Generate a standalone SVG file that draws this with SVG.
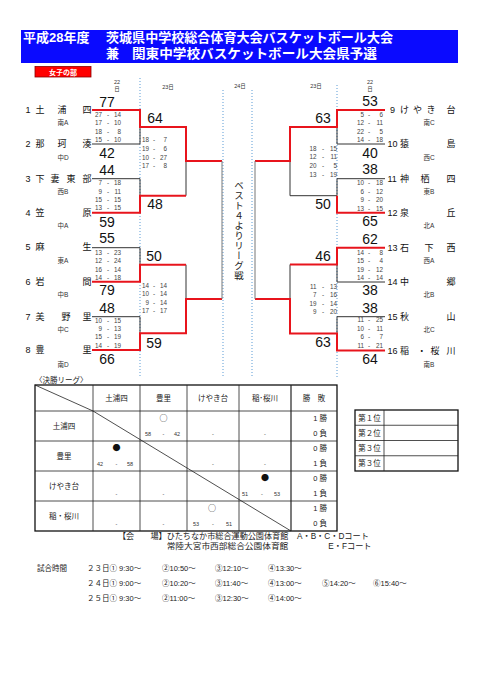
<svg xmlns="http://www.w3.org/2000/svg" width="481" height="680" viewBox="0 0 481 680">
<style>
text{font-family:"Liberation Sans","Noto Sans CJK JP",sans-serif;fill:#222}
.hd{font-family:"Liberation Sans","Noto Sans CJK JP",sans-serif;font-weight:bold;font-size:13px;fill:#fff}
.nm{font-size:9px;text-anchor:middle;fill:#111}
.no{font-size:9px;fill:#111}
.sub{font-size:6.5px;text-anchor:middle;fill:#333}
.big{font-family:"Liberation Sans Narrow","Liberation Sans",sans-serif;font-size:14px;text-anchor:middle;fill:#111}
.st{font-size:6.3px;text-anchor:end;fill:#444}
.day{font-size:5.5px;text-anchor:middle;fill:#333}
.red{stroke:#e8141c;stroke-width:2;fill:none}
.blk{stroke:#333;stroke-width:1;fill:none}
.gry{stroke:#777;stroke-width:1;fill:none}
.dot{stroke:#5b9bd5;stroke-width:1;stroke-dasharray:1,2;fill:none}
.tb{font-size:7.5px;text-anchor:middle}
.mk{font-family:"Noto Sans CJK JP",sans-serif;font-size:8px;text-anchor:middle;fill:#111}
.ts{font-size:5.5px;text-anchor:middle;fill:#333}
.wl{font-size:7.5px;text-anchor:end}
.ft{font-size:8.2px}
.sc{font-size:7.5px}
</style>

<g id="header">
<rect x="21" y="30" width="437" height="33" fill="#0a0aff"/>
<text class="hd" x="23" y="42">平成28年度</text>
<text class="hd" x="106" y="42" textLength="287" lengthAdjust="spacingAndGlyphs">茨城県中学校総合体育大会バスケットボール大会</text>
<text class="hd" x="106" y="57.5">兼</text>
<text class="hd" x="132" y="57.5" textLength="245" lengthAdjust="spacingAndGlyphs">関東中学校バスケットボール大会県予選</text>
</g>
<g id="division">
<rect x="35" y="66.5" width="56" height="10.5" fill="#ff0000" stroke="#800" stroke-width="0.8"/>
<text x="63" y="74.5" style="font-size:7px;text-anchor:middle;fill:#fff;font-weight:bold">女子の部</text>
</g>

<g id="days">
<text class="day" x="117" y="84">22</text><text class="day" x="117" y="91">日</text>
<text class="day" x="168" y="89">23日</text>
<text class="day" x="240" y="88">24日</text>
<text class="day" x="316" y="88">23日</text>
<text class="day" x="370" y="84">22</text><text class="day" x="370" y="91">日</text>
</g>

<g id="dotted-lines">
<line class="dot" x1="140" y1="78" x2="140" y2="377"/>
<line class="dot" x1="223" y1="90" x2="223" y2="377"/>
<line class="dot" x1="252" y1="90" x2="252" y2="377"/>
<line class="dot" x1="337" y1="85" x2="337" y2="377"/>
</g>

<g id="connectors">
<path class="blk" d="M92 144H140V127"/>
<path class="blk" d="M92 178.7H140V195.7"/>
<path class="blk" d="M186 161V195.7"/>
<path class="red" d="M92 110H140V127H186V161H222"/>
<path class="red" d="M92 212.7H140V195.7H186"/>
<path class="blk" d="M92 247.7H140V264.7"/>
<path class="blk" d="M92 316.7H140V333.3"/>
<path class="blk" d="M186 264.7V299"/>
<path class="red" d="M92 281.7H140V264.7H186"/>
<path class="red" d="M92 350H140V333.3H186V299H222"/>
<line class="gry" x1="222" y1="161" x2="222" y2="299"/>
<path class="blk" d="M385 144H337V127"/>
<path class="blk" d="M385 178.7H337V195.7H290"/>
<path class="blk" d="M290 161V195.7"/>
<path class="red" d="M385 110H337V127H290V161H255"/>
<path class="red" d="M385 212.7H337V195.7"/>
<path class="blk" d="M385 282H337V264.5"/>
<path class="blk" d="M385 316.7H337V333.5"/>
<path class="blk" d="M290 264.5V299"/>
<path class="red" d="M385 247.7H337V264.5H290"/>
<path class="red" d="M385 350.5H337V333.5H290V299H255"/>
<line class="gry" x1="255" y1="161" x2="255" y2="299"/>
</g>

<g id="team-1"><text class="no" x="28" y="113" text-anchor="middle">1</text><text class="nm" x="40 62 87" y="113">土浦四</text><text class="sub" x="63" y="125">南A</text></g>
<g id="team-2"><text class="no" x="28" y="147" text-anchor="middle">2</text><text class="nm" x="40 62 87" y="147">那珂湊</text><text class="sub" x="63" y="160">中D</text></g>
<g id="team-3"><text class="no" x="28" y="181.7" text-anchor="middle">3</text><text class="nm" x="40 55 71 87" y="181.7">下妻東部</text><text class="sub" x="63" y="194">西B</text></g>
<g id="team-4"><text class="no" x="28" y="215.7" text-anchor="middle">4</text><text class="nm" x="40 87" y="215.7">笠原</text><text class="sub" x="63" y="228">中A</text></g>
<g id="team-5"><text class="no" x="28" y="250" text-anchor="middle">5</text><text class="nm" x="40 87" y="250">麻生</text><text class="sub" x="63" y="263.3">東A</text></g>
<g id="team-6"><text class="no" x="28" y="284.7" text-anchor="middle">6</text><text class="nm" x="40 87" y="284.7">岩間</text><text class="sub" x="63" y="297.3">中B</text></g>
<g id="team-7"><text class="no" x="28" y="319.7" text-anchor="middle">7</text><text class="nm" x="40 66 87" y="319.7">美野里</text><text class="sub" x="63" y="331.6">中C</text></g>
<g id="team-8"><text class="no" x="28" y="353" text-anchor="middle">8</text><text class="nm" x="40 87" y="353">豊里</text><text class="sub" x="63" y="366.6">南D</text></g>

<g id="team-9"><text class="no" x="390" y="113">9</text><text class="nm" x="404.5 417.5 431 451" y="113">けやき台</text><text class="sub" x="429" y="125">南C</text></g>
<g id="team-10"><text class="no" x="387.5" y="147">10</text><text class="nm" x="404.5 451" y="147">猿島</text><text class="sub" x="429" y="160">西C</text></g>
<g id="team-11"><text class="no" x="387.5" y="181.7">11</text><text class="nm" x="404.5 425 451" y="181.7">神栖四</text><text class="sub" x="429" y="194">東B</text></g>
<g id="team-12"><text class="no" x="387.5" y="215.7">12</text><text class="nm" x="404.5 451" y="215.7">泉丘</text><text class="sub" x="429" y="228">北A</text></g>
<g id="team-13"><text class="no" x="387.5" y="250.7">13</text><text class="nm" x="404.5 429 451" y="250.7">石下西</text><text class="sub" x="429" y="263.3">西A</text></g>
<g id="team-14"><text class="no" x="387.5" y="285">14</text><text class="nm" x="404.5 451" y="285">中郷</text><text class="sub" x="429" y="297.3">北B</text></g>
<g id="team-15"><text class="no" x="387.5" y="319.7">15</text><text class="nm" x="404.5 451" y="319.7">秋山</text><text class="sub" x="429" y="331.6">北C</text></g>
<g id="team-16"><text class="no" x="387.5" y="353.5">16</text><text class="nm" x="404.5 421.7 435 451" y="353.5">稲・桜川</text><text class="sub" x="429" y="366.6">南B</text></g>

<g id="scores">
<text class="big" x="107" y="106.7">77</text>
<text class="big" x="107" y="157.7">42</text>
<text class="big" x="107" y="175">44</text>
<text class="big" x="107" y="226.7">59</text>
<text class="big" x="107" y="243.3">55</text>
<text class="big" x="107" y="295">79</text>
<text class="big" x="107" y="313.3">48</text>
<text class="big" x="107" y="364.3">66</text>
<text class="big" x="155" y="123">64</text>
<text class="big" x="155" y="209">48</text>
<text class="big" x="154" y="261">50</text>
<text class="big" x="154" y="347.7">59</text>
<text class="big" x="370" y="105.7">53</text>
<text class="big" x="370" y="157.7">40</text>
<text class="big" x="370" y="174.3">38</text>
<text class="big" x="370" y="226">65</text>
<text class="big" x="370" y="244">62</text>
<text class="big" x="370" y="295">38</text>
<text class="big" x="370" y="312.7">38</text>
<text class="big" x="370" y="364.3">64</text>
<text class="big" x="323" y="123.3">63</text>
<text class="big" x="323" y="209.3">50</text>
<text class="big" x="323" y="260.7">46</text>
<text class="big" x="323" y="347.3">63</text>
</g>

<g id="set-scores">
<text class="st" y="116.6"><tspan x="102">27</tspan><tspan x="109">-</tspan><tspan x="121">14</tspan></text>
<text class="st" y="125"><tspan x="102">17</tspan><tspan x="109">-</tspan><tspan x="121">10</tspan></text>
<text class="st" y="133.6"><tspan x="102">18</tspan><tspan x="109">-</tspan><tspan x="121">8</tspan></text>
<text class="st" y="142.3"><tspan x="102">15</tspan><tspan x="109">-</tspan><tspan x="121">10</tspan></text>
<text class="st" y="185"><tspan x="102">7</tspan><tspan x="109">-</tspan><tspan x="121">18</tspan></text>
<text class="st" y="193.6"><tspan x="102">9</tspan><tspan x="109">-</tspan><tspan x="121">11</tspan></text>
<text class="st" y="202.3"><tspan x="102">15</tspan><tspan x="109">-</tspan><tspan x="121">15</tspan></text>
<text class="st" y="210.3"><tspan x="102">13</tspan><tspan x="109">-</tspan><tspan x="121">15</tspan></text>
<text class="st" y="254.6"><tspan x="102">13</tspan><tspan x="109">-</tspan><tspan x="121">23</tspan></text>
<text class="st" y="263"><tspan x="102">12</tspan><tspan x="109">-</tspan><tspan x="121">24</tspan></text>
<text class="st" y="271.6"><tspan x="102">16</tspan><tspan x="109">-</tspan><tspan x="121">14</tspan></text>
<text class="st" y="279.8"><tspan x="102">14</tspan><tspan x="109">-</tspan><tspan x="121">18</tspan></text>
<text class="st" y="322.5"><tspan x="102">10</tspan><tspan x="109">-</tspan><tspan x="121">15</tspan></text>
<text class="st" y="330.8"><tspan x="102">9</tspan><tspan x="109">-</tspan><tspan x="121">13</tspan></text>
<text class="st" y="339.4"><tspan x="102">15</tspan><tspan x="109">-</tspan><tspan x="121">19</tspan></text>
<text class="st" y="348.4"><tspan x="102">14</tspan><tspan x="109">-</tspan><tspan x="121">19</tspan></text>
<text class="st" y="142.3"><tspan x="149">18</tspan><tspan x="155">-</tspan><tspan x="167">7</tspan></text>
<text class="st" y="151"><tspan x="149">19</tspan><tspan x="155">-</tspan><tspan x="167">6</tspan></text>
<text class="st" y="159.6"><tspan x="149">10</tspan><tspan x="155">-</tspan><tspan x="167">27</tspan></text>
<text class="st" y="168.3"><tspan x="149">17</tspan><tspan x="155">-</tspan><tspan x="167">8</tspan></text>
<text class="st" y="288"><tspan x="149">14</tspan><tspan x="155">-</tspan><tspan x="167">14</tspan></text>
<text class="st" y="296.4"><tspan x="149">10</tspan><tspan x="155">-</tspan><tspan x="167">14</tspan></text>
<text class="st" y="305"><tspan x="149">9</tspan><tspan x="155">-</tspan><tspan x="167">14</tspan></text>
<text class="st" y="313.4"><tspan x="149">17</tspan><tspan x="155">-</tspan><tspan x="167">17</tspan></text>
<text class="st" y="116.6"><tspan x="364">5</tspan><tspan x="370">-</tspan><tspan x="383">6</tspan></text>
<text class="st" y="125"><tspan x="364">12</tspan><tspan x="370">-</tspan><tspan x="383">11</tspan></text>
<text class="st" y="133.6"><tspan x="364">22</tspan><tspan x="370">-</tspan><tspan x="383">5</tspan></text>
<text class="st" y="142.3"><tspan x="364">14</tspan><tspan x="370">-</tspan><tspan x="383">18</tspan></text>
<text class="st" y="185"><tspan x="364">10</tspan><tspan x="370">-</tspan><tspan x="383">18</tspan></text>
<text class="st" y="193.6"><tspan x="364">6</tspan><tspan x="370">-</tspan><tspan x="383">12</tspan></text>
<text class="st" y="202.3"><tspan x="364">9</tspan><tspan x="370">-</tspan><tspan x="383">20</tspan></text>
<text class="st" y="210.6"><tspan x="364">13</tspan><tspan x="370">-</tspan><tspan x="383">15</tspan></text>
<text class="st" y="254.6"><tspan x="364">14</tspan><tspan x="370">-</tspan><tspan x="383">8</tspan></text>
<text class="st" y="263"><tspan x="364">15</tspan><tspan x="370">-</tspan><tspan x="383">4</tspan></text>
<text class="st" y="271.6"><tspan x="364">19</tspan><tspan x="370">-</tspan><tspan x="383">12</tspan></text>
<text class="st" y="279.6"><tspan x="364">14</tspan><tspan x="370">-</tspan><tspan x="383">14</tspan></text>
<text class="st" y="322.3"><tspan x="364">11</tspan><tspan x="370">-</tspan><tspan x="383">25</tspan></text>
<text class="st" y="330.6"><tspan x="364">10</tspan><tspan x="370">-</tspan><tspan x="383">11</tspan></text>
<text class="st" y="339.3"><tspan x="364">6</tspan><tspan x="370">-</tspan><tspan x="383">7</tspan></text>
<text class="st" y="347.6"><tspan x="364">11</tspan><tspan x="370">-</tspan><tspan x="383">21</tspan></text>
<text class="st" y="150.6"><tspan x="316.5">18</tspan><tspan x="324">-</tspan><tspan x="337">15</tspan></text>
<text class="st" y="159"><tspan x="316.5">12</tspan><tspan x="324">-</tspan><tspan x="337">11</tspan></text>
<text class="st" y="167.6"><tspan x="316.5">20</tspan><tspan x="324">-</tspan><tspan x="337">5</tspan></text>
<text class="st" y="176.6"><tspan x="316.5">13</tspan><tspan x="324">-</tspan><tspan x="337">19</tspan></text>
<text class="st" y="289"><tspan x="316.5">11</tspan><tspan x="324">-</tspan><tspan x="337">13</tspan></text>
<text class="st" y="297.3"><tspan x="316.5">7</tspan><tspan x="324">-</tspan><tspan x="337">16</tspan></text>
<text class="st" y="305.6"><tspan x="316.5">19</tspan><tspan x="324">-</tspan><tspan x="337">14</tspan></text>
<text class="st" y="314"><tspan x="316.5">9</tspan><tspan x="324">-</tspan><tspan x="337">20</tspan></text>
</g>

<g id="league-label">
<text x="239" y="181" style="writing-mode:vertical-rl;font-family:'Noto Sans CJK JP',sans-serif;font-size:9.5px;letter-spacing:0.5px;fill:#222">ベスト４よりリーグ戦</text>
</g>

<g id="league-table">
<text x="35" y="382.5" style="font-size:7.5px;font-family:'Noto Sans CJK JP',sans-serif">〈決勝リーグ〉</text>
<rect x="35" y="385" width="302" height="146" fill="none" stroke="#111" stroke-width="1.3"/>
<g stroke="#222" stroke-width="0.8">
<line x1="93" y1="385" x2="93" y2="531"/>
<line x1="140" y1="385" x2="140" y2="531"/>
<line x1="187" y1="385" x2="187" y2="531"/>
<line x1="239" y1="385" x2="239" y2="531"/>
<line x1="291" y1="385" x2="291" y2="531" stroke-width="1.2"/>
<line x1="35" y1="411" x2="337" y2="411"/>
<line x1="35" y1="441" x2="337" y2="441"/>
<line x1="35" y1="471" x2="337" y2="471"/>
<line x1="35" y1="501" x2="337" y2="501"/>
<line x1="35" y1="385" x2="93" y2="411"/>
<line x1="93" y1="411" x2="291" y2="531"/>
</g>
<text class="tb" x="116.5" y="400.5">土浦四</text>
<text class="tb" x="163.5" y="400.5">豊里</text>
<text class="tb" x="213" y="400.5">けやき台</text>
<text class="tb" x="265" y="400.5">稲･桜川</text>
<text class="tb" x="314" y="400.5">勝　敗</text>
<text class="tb" x="64" y="428.5">土浦四</text>
<text class="tb" x="64" y="458.5">豊里</text>
<text class="tb" x="64" y="488.5">けやき台</text>
<text class="tb" x="64" y="518.5">稲・桜川</text>
<text class="wl" x="327" y="420.5">1 勝</text><text class="wl" x="327" y="435.5">0 負</text>
<text class="wl" x="327" y="450.5">0 勝</text><text class="wl" x="327" y="465.5">1 負</text>
<text class="wl" x="327" y="480.5">0 勝</text><text class="wl" x="327" y="495.5">1 負</text>
<text class="wl" x="327" y="510.5">1 勝</text><text class="wl" x="327" y="525.5">0 負</text>
<text class="mk" x="163.5" y="421">○</text>
<text class="ts" x="148" y="435.5">58</text><text class="ts" x="163.5" y="435.5">-</text><text class="ts" x="177" y="435.5">42</text>
<text class="ts" x="213" y="435.5">-</text><text class="ts" x="265" y="435.5">-</text>
<text class="mk" x="116.5" y="451">●</text>
<text class="ts" x="100" y="465.5">42</text><text class="ts" x="116.5" y="465.5">-</text><text class="ts" x="130" y="465.5">58</text>
<text class="ts" x="213" y="465.5">-</text><text class="ts" x="265" y="465.5">-</text>
<text class="ts" x="116.5" y="495.5">-</text><text class="ts" x="163.5" y="495.5">-</text>
<text class="mk" x="265" y="481">●</text>
<text class="ts" x="245" y="495.5">51</text><text class="ts" x="262" y="495.5">-</text><text class="ts" x="277" y="495.5">53</text>
<text class="ts" x="116.5" y="525.5">-</text><text class="ts" x="163.5" y="525.5">-</text>
<text class="mk" x="212" y="511">○</text>
<text class="ts" x="196" y="525.5">53</text><text class="ts" x="213" y="525.5">-</text><text class="ts" x="229" y="525.5">51</text>
</g>

<g id="ranking-table">
<rect x="355" y="410" width="103" height="61" fill="none" stroke="#111" stroke-width="1.3"/>
<g stroke="#222" stroke-width="0.8">
<line x1="355" y1="425.25" x2="458" y2="425.25"/>
<line x1="355" y1="440.5" x2="458" y2="440.5"/>
<line x1="355" y1="455.75" x2="458" y2="455.75"/>
<line x1="384" y1="410" x2="384" y2="471"/>
</g>
<text class="tb" x="369.5" y="420.5">第１位</text>
<text class="tb" x="369.5" y="435.7">第２位</text>
<text class="tb" x="369.5" y="451">第３位</text>
<text class="tb" x="369.5" y="466.2">第３位</text>
</g>

<g id="venue">
<text class="ft" x="118" y="539.3" textLength="170.3" lengthAdjust="spacingAndGlyphs">【会　　場】ひたちなか市総合運動公園体育館</text>
<text class="ft" x="297" y="539.3">A・B・C・Dコート</text>
<text class="ft" x="166.7" y="549.2" textLength="121.6" lengthAdjust="spacingAndGlyphs">常陸大宮市西部総合公園体育館</text>
<text class="ft" x="328.3" y="549.2">E・Fコート</text>
</g>

<g id="schedule">
<text class="sc" x="37" y="570.5">試合時間</text>
<text class="sc" x="87" y="570.5">２３日① 9:30～</text>
<text class="sc" x="162" y="570.5">②10:50～</text>
<text class="sc" x="215" y="570.5">③12:10～</text>
<text class="sc" x="268" y="570.5">④13:30～</text>
<text class="sc" x="87" y="585.5">２４日① 9:00～</text>
<text class="sc" x="162" y="585.5">②10:20～</text>
<text class="sc" x="215" y="585.5">③11:40～</text>
<text class="sc" x="268" y="585.5">④13:00～</text>
<text class="sc" x="322" y="585.5">⑤14:20～</text>
<text class="sc" x="373" y="585.5">⑥15:40～</text>
<text class="sc" x="87" y="601">２５日① 9:30～</text>
<text class="sc" x="162" y="601">②11:00～</text>
<text class="sc" x="215" y="601">③12:30～</text>
<text class="sc" x="268" y="601">④14:00～</text>
</g>
</svg>
